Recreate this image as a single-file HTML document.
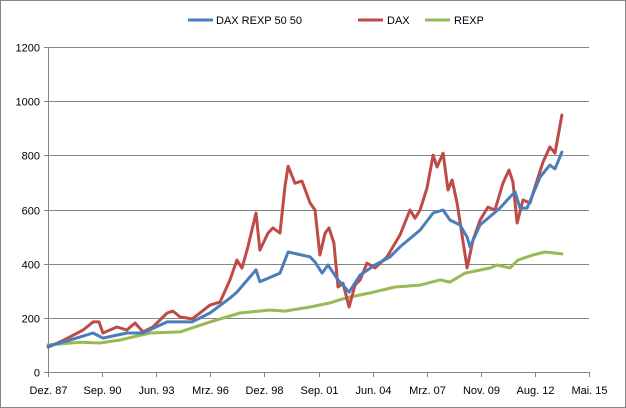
<!DOCTYPE html>
<html><head><meta charset="utf-8"><style>
html,body{margin:0;padding:0;background:#fff}
svg{display:block;font-family:"Liberation Sans",sans-serif}
</style></head><body>
<svg id="chart" width="626" height="408">
<rect x="0.5" y="0.5" width="625" height="407" fill="#fff" stroke="#868686"/>
<g id="grid"></g><g id="axes"></g><g id="series"></g>
<g font-size="11" fill="#000">
 <g><line x1="188" y1="20" x2="213" y2="20" stroke="#4a7ebb" stroke-width="3"/><text x="216" y="24">DAX REXP 50 50</text></g>
 <g><line x1="358" y1="20" x2="383" y2="20" stroke="#be4b48" stroke-width="3"/><text x="387" y="24">DAX</text></g>
 <g><line x1="425" y1="20" x2="450" y2="20" stroke="#98b954" stroke-width="3"/><text x="454" y="24">REXP</text></g>
</g>
</svg>
<script>
const yTicks=[0,200,400,600,800,1000,1200];
const xTickLabels=["Dez. 87","Sep. 90","Jun. 93","Mrz. 96","Dez. 98","Sep. 01","Jun. 04","Mrz. 07","Nov. 09","Aug. 12","Mai. 15"];
const daxDates=[1987.92,1988.53,1989.04,1989.70,1990.21,1990.51,1990.71,1991.42,1991.93,1992.34,1992.75,1993.25,1993.97,1994.27,1994.63,1995.24,1995.64,1996.15,1996.66,1997.17,1997.52,1997.78,1998.08,1998.49,1998.69,1999.10,1999.35,1999.71,1999.96,2000.12,2000.47,2000.83,2001.24,2001.49,2001.74,2002.00,2002.20,2002.45,2002.66,2002.91,2003.22,2003.52,2003.78,2004.13,2004.54,2005.15,2005.45,2005.81,2006.32,2006.57,2006.83,2007.18,2007.49,2007.69,2008.00,2008.25,2008.46,2008.71,2009.22,2009.52,2009.88,2010.28,2010.64,2011.04,2011.35,2011.55,2011.76,2012.06,2012.42,2012.67,2013.08,2013.43,2013.69,2014.04];
const daxValues=[92,111,130,155,185,185,144,166,155,181,148,166,218,225,203,196,218,247,258,340,413,384,462,587,450,513,532,513,683,760,697,705,624,598,432,513,532,476,314,328,240,321,340,402,384,425,462,506,598,568,598,679,801,757,808,672,709,624,384,487,561,609,598,697,746,702,550,635,624,683,775,831,808,949];
const mixDates=[1987.92,1989.04,1990.21,1990.71,1991.93,1992.75,1993.97,1995.24,1996.15,1997.17,1997.52,1998.49,1998.69,1999.71,2000.12,2001.24,2001.49,2001.85,2002.15,2002.66,2003.22,2003.78,2004.54,2005.30,2005.81,2006.83,2007.49,2008.00,2008.35,2008.86,2009.22,2009.37,2009.88,2010.89,2011.40,2011.66,2011.91,2012.27,2012.93,2013.43,2013.69,2014.04];
const mixValues=[95,118,144,125,144,144,185,185,218,273,295,377,333,365,443,425,406,365,395,340,295,358,395,425,462,524,587,598,561,543,498,462,543,605,646,665,605,605,720,764,750,812];
const rexpDates=[1987.92,1989.55,1990.56,1991.58,1993.10,1994.63,1996.15,1997.68,1999.20,1999.96,2001.24,2002.25,2002.71,2003.27,2004.29,2005.56,2006.83,2007.85,2008.35,2009.12,2010.39,2010.74,2011.40,2011.81,2012.57,2013.18,2014.04];
const rexpValues=[100,110,107,118,144,148,185,218,229,225,240,255,266,277,292,314,321,340,332,365,384,395,384,413,432,443,436];

const NS="http://www.w3.org/2000/svg";
const X0=48,X1=589,Y0=372,Y1=47,T0=1987.917,T1=2015.417;
function xScale(t){return X0+(t-T0)/(T1-T0)*(X1-X0);}
function yScale(v){return Y0-v/1200*(Y0-Y1);}
function mk(tag,attrs,parent){const e=document.createElementNS(NS,tag);for(const k in attrs)e.setAttribute(k,attrs[k]);parent.appendChild(e);return e;}
const grid=document.getElementById('grid'),axes=document.getElementById('axes'),ser=document.getElementById('series');
yTicks.forEach(v=>{
 const y=Math.round(yScale(v))+0.5;
 if(v>0){const g=mk('line',{x1:X0,x2:X1,y1:y,y2:y,stroke:'#868686','stroke-width':1},grid);
 
 }
 const tk=mk('line',{x1:X0-4,x2:X0,y1:y,y2:y,stroke:'#868686'},axes);
 
 
 const t=mk('text',{x:X0-8,y:y+4,'text-anchor':'end','font-size':'11',fill:'#000'},axes);
 t.textContent=v;
 
 
});
const ya=mk('line',{x1:X0+0.5,x2:X0+0.5,y1:Y1,y2:Y0+0.5,stroke:'#868686'},axes);


const xa=mk('line',{x1:X0,x2:X1,y1:Y0+0.5,y2:Y0+0.5,stroke:'#868686'},axes);


xTickLabels.forEach((lab,i)=>{
 const x=Math.round(X0+i*(X1-X0)/(xTickLabels.length-1))+0.5;
 const tk=mk('line',{x1:x,x2:x,y1:Y0,y2:Y0+5,stroke:'#868686'},axes);
 
 
 const t=mk('text',{x:x,y:Y0+22,'text-anchor':'middle','font-size':'11',fill:'#000'},axes);
 t.textContent=lab;
 
 
});
function line(d,v,color,name){
 const pts=d.map((t,i)=>xScale(t).toFixed(1)+','+yScale(v[i]).toFixed(1)).join(' ');
 const p=mk('polyline',{points:pts,fill:'none',stroke:color,'stroke-width':3,'stroke-linejoin':'round','stroke-linecap':'round'},ser);
 
 
}
line(rexpDates,rexpValues,'#98b954','rexp-line');
line(daxDates,daxValues,'#be4b48','dax-line');
line(mixDates,mixValues,'#4a7ebb','dax-rexp-50-50-line');
</script>
</body></html>
